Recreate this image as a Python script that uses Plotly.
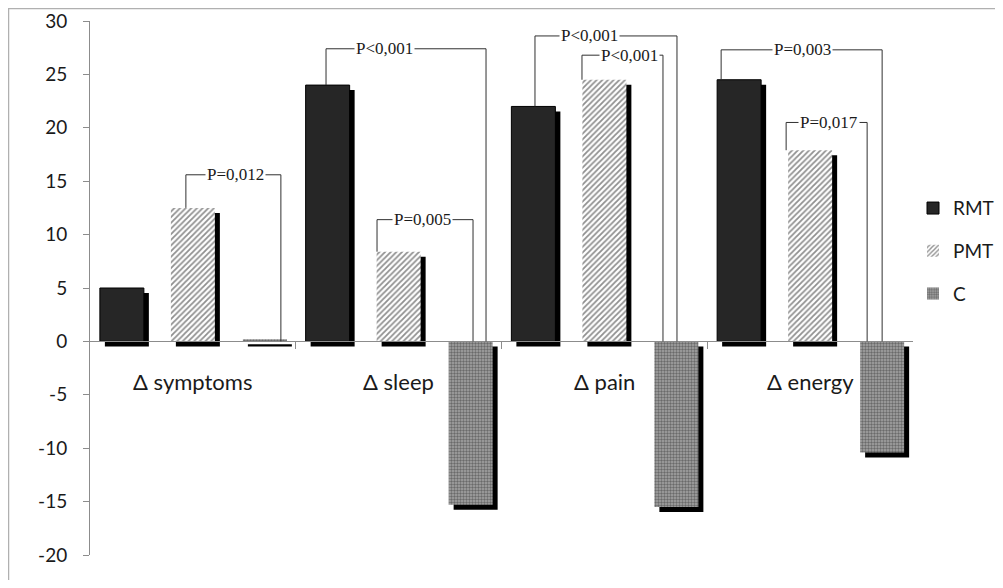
import plotly.graph_objects as go

# ---------------- data ----------------
categories = ["Δ symptoms", "Δ sleep", "Δ pain", "Δ energy"]
series_names = ["RMT", "PMT", "C"]
rmt = [5.0, 24.0, 22.0, 24.5]
pmt = [12.5, 8.4, 24.5, 17.9]
ctrl = [0.2, -15.3, -15.5, -10.4]
y_ticks = [30, 25, 20, 15, 10, 5, 0, -5, -10, -15, -20]
y_tick_text = ["30", "25", "20", "15", "10", "5", "0", "-5", "-10", "-15", "-20"]

# significance brackets: (category index, left series, right series, bracket level, label)
brackets = [
    (0, 1, 2, 15.6, "P=0,012"),
    (1, 0, 2, 27.4, "P<0,001"),
    (1, 1, 2, 11.4, "P=0,005"),
    (2, 0, 2, 28.6, "P<0,001"),
    (2, 1, 2, 26.8, "P<0,001"),
    (3, 0, 2, 27.3, "P=0,003"),
    (3, 1, 2, 20.5, "P=0,017"),
]

# ---------------- layout / style constants ----------------
PAGE = 8                      # default body margin of the html page
W, H = 1003 - 2 * PAGE, 588 - 2 * PAGE
ML, MR, MT, MB = 90 - PAGE, 82, 21 - PAGE, 25
plot_w = W - ML - MR
plot_h = H - MT - MB
y_min, y_max = -20, 30
px_x = 4 / plot_w          # 1 px in category units (range width 4)
px_y = (y_max - y_min) / plot_h

bar_w = 44 * px_x
centers = [-71 * px_x, 0.0, 72 * px_x]  # series centre offsets within category
sh_dx, sh_dy = 5 * px_x, 5 * px_y

xs = list(range(len(categories)))
values = [rmt, pmt, ctrl]

styles = [
    dict(color="#262626", line=dict(color="#000000", width=1)),
    dict(color="white", line=dict(color="#777777", width=0),
         pattern=dict(shape="/", fgcolor="#222222", bgcolor="white", size=4, solidity=0.45, fillmode="overlay")),
    dict(color="#8c8c8c", line=dict(color="#777777", width=0),
         pattern=dict(shape=".", fgcolor="#2e2e2e", bgcolor="#a6a6a6", size=3, solidity=0.5, fillmode="overlay")),
]

fig = go.Figure()

# shadows
for si, vals in enumerate(values):
    fig.add_trace(go.Bar(
        x=xs, y=vals, base=[-sh_dy] * len(vals),
        offset=centers[si] - bar_w / 2 + sh_dx, width=bar_w,
        marker=dict(color="black", line=dict(width=0)),
        showlegend=False, hoverinfo="skip"))

# main bars
for si, vals in enumerate(values):
    fig.add_trace(go.Bar(
        x=xs, y=vals, name=series_names[si],
        offset=centers[si] - bar_w / 2, width=bar_w,
        marker=styles[si], legendgroup=series_names[si]))

shapes = []
annotations = []
# bracket leg pixel offsets relative to category centre (left leg, right leg, label centre)
leg_px = [(-7, 88, 43), (-72.6, 87.4, -14.6), (-21.6, 74.4, 23.4), (-69.4, 72.6, -14.4),
          (-22.4, 58.6, 25.6), (-89, 72, -8), (-24, 57, 19)]
for (ci, a, b, lvl, label), (lp, rp, tp) in zip(brackets, leg_px):
    xl = ci + lp * px_x
    xr = ci + rp * px_x
    ya = values[a][ci]
    line = dict(color="#303030", width=1)
    shapes.append(dict(type="line", xref="x", yref="y", x0=xl, x1=xl, y0=ya, y1=lvl, line=line, layer="above"))
    shapes.append(dict(type="line", xref="x", yref="y", x0=xl, x1=xr, y0=lvl, y1=lvl, line=line, layer="above"))
    shapes.append(dict(type="line", xref="x", yref="y", x0=xr, x1=xr, y0=lvl, y1=0, line=line, layer="above"))
    annotations.append(dict(x=ci + tp * px_x, y=lvl, xref="x", yref="y", text=label, showarrow=False,
                            font=dict(family="Liberation Serif, Times New Roman, serif", size=17, color="#1a1a1a"),
                            bgcolor="white", borderpad=1, xanchor="center", yanchor="middle"))

SANS = "Lato, Liberation Sans, sans-serif"
# category labels
for ci, cat in enumerate(categories):
    annotations.append(dict(x=ci, y=-3.75, xref="x", yref="y", text=cat, showarrow=False,
                            font=dict(family=SANS, size=22, color="#1a1a1a"),
                            xanchor="center", yanchor="middle"))

# outer border (top and left)
shapes.append(dict(type="line", xref="paper", yref="paper", x0=-ML / plot_w, x1=1 + MR / plot_w,
                   y0=1 + (MT - 0.5) / plot_h, y1=1 + (MT - 0.5) / plot_h, line=dict(color="#b0b0b0", width=1.5)))
shapes.append(dict(type="line", xref="paper", yref="paper", x0=(-ML + 0.5) / plot_w, x1=(-ML + 0.5) / plot_w,
                   y0=1 + MT / plot_h, y1=-MB / plot_h, line=dict(color="#b0b0b0", width=1.5)))

fig.update_layout(
    width=W, height=H,
    margin=dict(l=ML, r=MR, t=MT, b=MB, autoexpand=False),
    paper_bgcolor="white", plot_bgcolor="white",
    barmode="overlay",
    shapes=shapes, annotations=annotations,
    font=dict(family=SANS, color="#1a1a1a"),
    legend=dict(x=1.0, y=0.685, xanchor="left", yanchor="top", tracegroupgap=15,
                font=dict(size=19, color="#1a1a1a"), bgcolor="rgba(0,0,0,0)"),
    xaxis=dict(range=[-0.5, 3.5], showgrid=False, zeroline=False, anchor="free",
               position=(0 - y_min) / (y_max - y_min), showline=True, linecolor="#8c8c8c", linewidth=1,
               ticks="outside", ticklen=7, tickcolor="#8c8c8c", tickvals=[0.5, 1.5, 2.5],
               showticklabels=False),
    yaxis=dict(range=[y_min, y_max], tickvals=y_ticks, ticktext=y_tick_text, showgrid=False, zeroline=False,
               showline=True, linecolor="#8c8c8c", linewidth=1, ticks="outside", ticklen=6,
               tickcolor="#8c8c8c", tickfont=dict(size=19, color="#1a1a1a"), ticklabelstandoff=12),
)

fig.write_html("out.html")
